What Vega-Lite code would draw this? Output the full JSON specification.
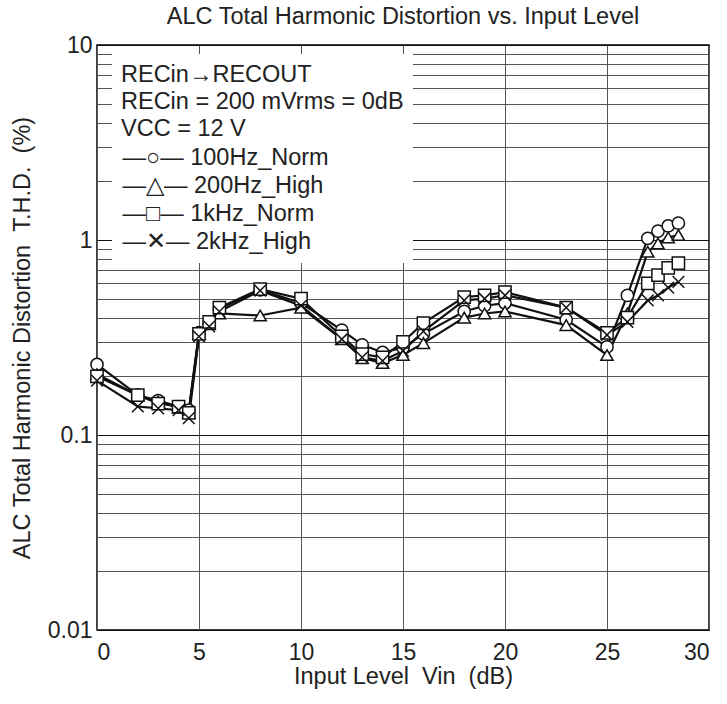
{
  "$schema": "https://vega.github.io/schema/vega-lite/v6.json",
  "width": 612,
  "height": 585,
  "autosize": {"type": "none"},
  "padding": {"left": 97, "top": 45, "right": 18, "bottom": 74},
  "background": "white",
  "title": {"text": "ALC Total Harmonic Distortion vs. Input Level", "fontSize": 23.5, "font": "Liberation Sans", "fontWeight": "normal", "color": "#222", "anchor": "middle", "offset": 6},
  "config": {
    "view": {"stroke": "black", "strokeWidth": 1.5},
    "font": "Liberation Sans",
    "axis": {"labelFont": "Liberation Sans", "titleFont": "Liberation Sans", "labelFontSize": 23, "titleFontSize": 23.5, "titleFontWeight": "normal", "labelColor": "#222", "titleColor": "#222", "domain": false, "ticks": false}
  },
  "data": {"values": [
    {"x": 0, "y": 0.23, "s": "100Hz_Norm"}, {"x": 2, "y": 0.16, "s": "100Hz_Norm"}, {"x": 3, "y": 0.15, "s": "100Hz_Norm"}, {"x": 4, "y": 0.14, "s": "100Hz_Norm"}, {"x": 4.5, "y": 0.134, "s": "100Hz_Norm"}, {"x": 5, "y": 0.335, "s": "100Hz_Norm"}, {"x": 5.5, "y": 0.375, "s": "100Hz_Norm"}, {"x": 6, "y": 0.445, "s": "100Hz_Norm"}, {"x": 8, "y": 0.555, "s": "100Hz_Norm"}, {"x": 10, "y": 0.475, "s": "100Hz_Norm"}, {"x": 12, "y": 0.345, "s": "100Hz_Norm"}, {"x": 13, "y": 0.29, "s": "100Hz_Norm"}, {"x": 14, "y": 0.265, "s": "100Hz_Norm"}, {"x": 15, "y": 0.28, "s": "100Hz_Norm"}, {"x": 16, "y": 0.33, "s": "100Hz_Norm"}, {"x": 18, "y": 0.43, "s": "100Hz_Norm"}, {"x": 19, "y": 0.46, "s": "100Hz_Norm"}, {"x": 20, "y": 0.475, "s": "100Hz_Norm"}, {"x": 23, "y": 0.39, "s": "100Hz_Norm"}, {"x": 25, "y": 0.283, "s": "100Hz_Norm"}, {"x": 26, "y": 0.52, "s": "100Hz_Norm"}, {"x": 27, "y": 1.02, "s": "100Hz_Norm"}, {"x": 27.5, "y": 1.11, "s": "100Hz_Norm"}, {"x": 28, "y": 1.18, "s": "100Hz_Norm"}, {"x": 28.5, "y": 1.22, "s": "100Hz_Norm"},
    {"x": 0, "y": 0.205, "s": "200Hz_High"}, {"x": 2, "y": 0.16, "s": "200Hz_High"}, {"x": 3, "y": 0.148, "s": "200Hz_High"}, {"x": 4, "y": 0.138, "s": "200Hz_High"}, {"x": 4.5, "y": 0.13, "s": "200Hz_High"}, {"x": 5, "y": 0.33, "s": "200Hz_High"}, {"x": 5.5, "y": 0.37, "s": "200Hz_High"}, {"x": 6, "y": 0.42, "s": "200Hz_High"}, {"x": 8, "y": 0.41, "s": "200Hz_High"}, {"x": 10, "y": 0.45, "s": "200Hz_High"}, {"x": 12, "y": 0.31, "s": "200Hz_High"}, {"x": 13, "y": 0.248, "s": "200Hz_High"}, {"x": 14, "y": 0.234, "s": "200Hz_High"}, {"x": 15, "y": 0.257, "s": "200Hz_High"}, {"x": 16, "y": 0.296, "s": "200Hz_High"}, {"x": 18, "y": 0.4, "s": "200Hz_High"}, {"x": 19, "y": 0.42, "s": "200Hz_High"}, {"x": 20, "y": 0.43, "s": "200Hz_High"}, {"x": 23, "y": 0.366, "s": "200Hz_High"}, {"x": 25, "y": 0.257, "s": "200Hz_High"}, {"x": 26, "y": 0.42, "s": "200Hz_High"}, {"x": 27, "y": 0.87, "s": "200Hz_High"}, {"x": 27.5, "y": 0.96, "s": "200Hz_High"}, {"x": 28, "y": 1.03, "s": "200Hz_High"}, {"x": 28.5, "y": 1.06, "s": "200Hz_High"},
    {"x": 0, "y": 0.2, "s": "1kHz_Norm"}, {"x": 2, "y": 0.16, "s": "1kHz_Norm"}, {"x": 3, "y": 0.145, "s": "1kHz_Norm"}, {"x": 4, "y": 0.14, "s": "1kHz_Norm"}, {"x": 4.5, "y": 0.13, "s": "1kHz_Norm"}, {"x": 5, "y": 0.33, "s": "1kHz_Norm"}, {"x": 5.5, "y": 0.38, "s": "1kHz_Norm"}, {"x": 6, "y": 0.45, "s": "1kHz_Norm"}, {"x": 8, "y": 0.56, "s": "1kHz_Norm"}, {"x": 10, "y": 0.5, "s": "1kHz_Norm"}, {"x": 12, "y": 0.32, "s": "1kHz_Norm"}, {"x": 13, "y": 0.26, "s": "1kHz_Norm"}, {"x": 14, "y": 0.25, "s": "1kHz_Norm"}, {"x": 15, "y": 0.3, "s": "1kHz_Norm"}, {"x": 16, "y": 0.375, "s": "1kHz_Norm"}, {"x": 18, "y": 0.51, "s": "1kHz_Norm"}, {"x": 19, "y": 0.52, "s": "1kHz_Norm"}, {"x": 20, "y": 0.54, "s": "1kHz_Norm"}, {"x": 23, "y": 0.45, "s": "1kHz_Norm"}, {"x": 25, "y": 0.334, "s": "1kHz_Norm"}, {"x": 26, "y": 0.4, "s": "1kHz_Norm"}, {"x": 27, "y": 0.6, "s": "1kHz_Norm"}, {"x": 27.5, "y": 0.66, "s": "1kHz_Norm"}, {"x": 28, "y": 0.72, "s": "1kHz_Norm"}, {"x": 28.5, "y": 0.76, "s": "1kHz_Norm"},
    {"x": 0, "y": 0.19, "s": "2kHz_High"}, {"x": 2, "y": 0.14, "s": "2kHz_High"}, {"x": 3, "y": 0.137, "s": "2kHz_High"}, {"x": 4, "y": 0.134, "s": "2kHz_High"}, {"x": 4.5, "y": 0.122, "s": "2kHz_High"}, {"x": 5, "y": 0.32, "s": "2kHz_High"}, {"x": 5.5, "y": 0.36, "s": "2kHz_High"}, {"x": 6, "y": 0.43, "s": "2kHz_High"}, {"x": 8, "y": 0.55, "s": "2kHz_High"}, {"x": 10, "y": 0.46, "s": "2kHz_High"}, {"x": 12, "y": 0.31, "s": "2kHz_High"}, {"x": 13, "y": 0.25, "s": "2kHz_High"}, {"x": 14, "y": 0.24, "s": "2kHz_High"}, {"x": 15, "y": 0.27, "s": "2kHz_High"}, {"x": 16, "y": 0.34, "s": "2kHz_High"}, {"x": 18, "y": 0.49, "s": "2kHz_High"}, {"x": 19, "y": 0.5, "s": "2kHz_High"}, {"x": 20, "y": 0.52, "s": "2kHz_High"}, {"x": 23, "y": 0.45, "s": "2kHz_High"}, {"x": 25, "y": 0.326, "s": "2kHz_High"}, {"x": 26, "y": 0.38, "s": "2kHz_High"}, {"x": 27, "y": 0.49, "s": "2kHz_High"}, {"x": 27.5, "y": 0.52, "s": "2kHz_High"}, {"x": 28, "y": 0.57, "s": "2kHz_High"}, {"x": 28.5, "y": 0.61, "s": "2kHz_High"}
  ]},
  "encoding": {
    "x": {"field": "x", "type": "quantitative", "scale": {"domain": [0, 30], "nice": false}, "axis": {"values": [0, 5, 10, 15, 20, 25, 30], "title": "Input Level\u00a0\u00a0Vin\u00a0\u00a0(dB)", "labelPadding": 11, "titlePadding": 0, "gridColor": "#555", "gridWidth": 1}},
    "y": {"field": "y", "type": "quantitative", "scale": {"type": "log", "domain": [0.01, 10], "nice": false}, "axis": {
      "values": [0.01, 0.02, 0.03, 0.04, 0.05, 0.06, 0.07, 0.08, 0.09, 0.1, 0.2, 0.3, 0.4, 0.5, 0.6, 0.7, 0.8, 0.9, 1, 2, 3, 4, 5, 6, 7, 8, 9, 10],
      "labelExpr": "abs(log(datum.value)/LN10 - round(log(datum.value)/LN10)) < 0.001 ? (datum.value >= 1 ? format(datum.value, 'd') : format(datum.value, '.2~f')) : ''",
      "title": "ALC Total Harmonic Distortion\u00a0\u00a0T.H.D.\u00a0\u00a0(%)", "labelPadding": 5, "titlePadding": 13,
      "gridColor": {"condition": {"test": "abs(log(datum.value)/LN10 - round(log(datum.value)/LN10)) < 0.001", "value": "#111"}, "value": "#555"},
      "gridWidth": 1}}
  },
  "layer": [
    {"mark": {"type": "line", "color": "#111", "strokeWidth": 2.2}, "encoding": {"detail": {"field": "s"}}},
    {"mark": {"type": "point", "filled": false, "fill": "white", "fillOpacity": 1, "stroke": "#111", "strokeWidth": 1.5, "size": 150, "opacity": 1},
     "encoding": {"shape": {"field": "s", "type": "nominal",
       "scale": {"domain": ["100Hz_Norm", "200Hz_High", "1kHz_Norm", "2kHz_High"],
                 "range": ["circle", "triangle-up", "square", "M-0.95,-0.95L0.95,0.95M0.95,-0.95L-0.95,0.95"]},
       "legend": {
         "title": ["RECin→RECOUT", "RECin = 200 mVrms = 0dB", "VCC = 12 V"],
         "orient": "none", "legendX": 15, "legendY": 9, "padding": 9, "fillColor": "white",
         "titleFontSize": 23.5, "titleFontWeight": "normal", "titleFont": "Liberation Sans", "titleColor": "#222", "titleLineHeight": 27, "titlePadding": 6, "titleLimit": 500,
         "labelFontSize": 23.5, "labelFont": "Liberation Sans", "labelColor": "#222", "labelOffset": -22, "labelLimit": 400,
         "labelExpr": "(datum.value === '100Hz_Norm' ? '—○— ' : datum.value === '200Hz_High' ? '—△— ' : datum.value === '1kHz_Norm' ? '—□— ' : '—✕— ') + datum.label",
         "symbolSize": 1, "symbolOffset": 0, "symbolOpacity": 0, "symbolStrokeWidth": 0, "rowPadding": 3
       }}}}
  ]
}
